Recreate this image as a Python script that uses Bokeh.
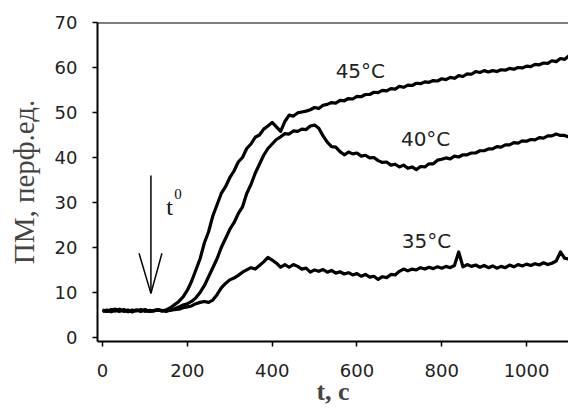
from bokeh.plotting import figure
from bokeh.models import Range1d, FixedTicker, Span
from bokeh.core.properties import value
from bokeh.embed import file_html
from bokeh.resources import INLINE

# time, s (step 10 s)
t = list(range(0, 1101, 10))

t45 = [6.0, 5.8, 6.2, 5.9, 6.3, 5.8, 6.1, 5.7, 6.1, 5.9,
       6.2, 5.8, 6.0, 6.2, 5.9, 6.1, 6.6, 7.3, 8.0, 9.0,
       10.5, 12.5, 15.0, 17.5, 21.0, 23.5, 27.0, 29.5, 32.0, 33.5,
       35.5, 37.0, 39.0, 40.0, 42.0, 43.0, 44.5, 45.0, 46.3, 47.0,
       47.8, 46.8, 45.8, 48.0, 49.4, 49.2, 49.9, 50.1, 50.3, 50.6,
       51.1, 50.9, 51.6, 51.8, 52.2, 52.1, 52.7, 52.6, 53.1, 53.0,
       53.6, 53.5, 54.0, 54.0, 54.5, 54.4, 54.9, 54.8, 55.3, 55.2,
       55.8, 55.6, 56.1, 56.0, 56.5, 56.4, 56.8, 56.7, 57.1, 57.0,
       57.5, 57.3, 57.8, 57.6, 58.2, 58.0, 58.6, 58.5, 59.1, 58.9,
       59.3, 59.0, 59.3, 59.1, 59.5, 59.4, 59.8, 59.6, 60.0, 59.9,
       60.3, 60.2, 60.7, 60.6, 61.0, 60.9, 61.5, 61.3, 62.0, 61.8,
       62.6]

t40 = [5.8, 6.1, 5.7, 6.0, 5.8, 6.2, 5.9, 5.7, 6.1, 5.8,
       6.1, 5.8, 5.9, 6.1, 6.0, 5.8, 6.1, 6.4, 6.8, 7.2,
       7.5, 8.0, 8.8, 10.0, 11.5, 13.5, 15.5, 17.5, 20.0, 22.0,
       24.0, 25.5, 27.5, 29.0, 32.0, 34.0, 36.5, 38.5, 40.5, 42.0,
       43.0, 44.0, 44.6, 45.3, 45.2, 45.9, 45.8, 46.3, 46.2, 47.0,
       47.2, 46.5, 44.8, 43.4, 42.4, 42.3, 41.3, 40.6, 41.2, 40.8,
       41.0, 40.3, 40.5, 39.9, 40.0, 39.3, 38.9, 39.0, 38.3, 38.5,
       37.9, 38.3, 37.6, 37.9, 37.3, 38.0, 37.9, 38.6, 38.6, 39.4,
       39.6, 39.9, 39.7, 40.3, 40.1, 40.6, 40.6, 41.0, 41.0, 41.5,
       41.5, 41.9, 41.9, 42.4, 42.3, 42.8, 42.8, 43.3, 43.2, 43.7,
       43.6, 44.0, 43.9, 44.4, 44.3, 44.8, 44.8, 45.2, 44.9, 44.9,
       44.5]

t35 = [6.1, 5.8, 6.0, 6.3, 5.9, 6.0, 5.7, 6.1, 5.9, 6.2,
       5.8, 6.0, 5.9, 6.1, 5.9, 6.0, 6.0, 6.2, 6.3, 6.6,
       6.8, 7.0, 7.5, 7.8, 8.0, 7.8, 8.3, 9.5, 11.0, 12.0,
       12.8, 13.2, 13.8, 14.5, 15.0, 15.5, 15.2, 16.0, 16.8, 17.8,
       17.2, 16.5, 15.6, 16.2, 15.6, 16.2, 15.8, 15.2, 15.4, 14.5,
       15.0, 14.7, 15.1, 14.5, 14.9, 14.3, 14.6, 14.1, 14.4, 13.9,
       14.2, 13.6, 14.0, 13.4, 13.6, 12.9, 13.5, 13.3, 14.0, 13.9,
       14.7, 15.2, 14.8, 15.2, 15.0, 15.5, 15.2, 15.6, 15.3, 15.7,
       15.4, 15.8, 15.5, 16.0, 19.0, 15.7, 16.2, 15.8, 16.1, 15.6,
       16.0, 15.5, 15.9, 15.4, 15.8, 15.5, 16.1, 15.7, 16.2, 15.9,
       16.3, 16.0, 16.4, 16.1, 16.6, 16.2, 16.5, 17.0, 19.0, 17.6,
       17.4]

x_ticks = [0, 200, 400, 600, 800, 1000]
y_ticks = [0, 10, 20, 30, 40, 50, 60, 70]

series_labels = ["45°C", "40°C", "35°C"]
label_t = [608, 762, 764]
label_v = [59.3, 44.2, 21.5]

# arrow marking t0
arrow_x0 = [114, 86, 140]
arrow_y0 = [36, 18.7, 18.7]
arrow_x1 = [114, 114, 114]
arrow_y1 = [9.8, 9.8, 9.8]

p = figure(width=568, height=412, output_backend="svg", toolbar_location=None,
           x_range=Range1d(-12, 1099), y_range=Range1d(-0.9, 70),
           min_border_left=97, min_border_right=0, min_border_top=22, min_border_bottom=71)
p.outline_line_color = None
p.grid.grid_line_color = None
p.background_fill_color = "white"

for ys in (t45, t40, t35):
    p.line(t, ys, line_color="black", line_width=3.2, line_join="round")

p.segment(arrow_x0, arrow_y0, arrow_x1, arrow_y1, line_color="black", line_width=1.5)

p.text(label_t, label_v, text=series_labels, text_font=value("DejaVu Sans"),
       text_font_size="20px", text_align="center", text_baseline="alphabetic",
       text_color="#222222")

p.text([150], [29.1], text=["t"], text_font=value("Liberation Serif"),
       text_font_size="24px", text_baseline="alphabetic", text_color="#111111")
p.text([169], [31.8], text=["0"], text_font=value("Liberation Serif"),
       text_font_size="15px", text_baseline="alphabetic", text_color="#111111")

p.add_layout(Span(location=70, dimension="width", line_color="black", line_width=2))

for ax in (p.xaxis[0], p.yaxis[0]):
    ax.axis_line_width = 2
    ax.axis_line_color = "black"
    ax.major_tick_line_width = 1.5
    ax.major_tick_line_color = "black"
    ax.major_tick_in = 0
    ax.major_tick_out = 5
    ax.minor_tick_line_color = None
    ax.major_label_text_font = "DejaVu Sans"
    ax.major_label_text_font_size = "18px"
    ax.major_label_text_color = "#222222"

p.xaxis.ticker = FixedTicker(ticks=x_ticks)
p.yaxis.ticker = FixedTicker(ticks=y_ticks)
p.xaxis.major_label_standoff = 17
p.yaxis.major_label_standoff = 15

p.xaxis.axis_label = "t, c"
p.xaxis.axis_label_text_font = "Liberation Serif"
p.xaxis.axis_label_text_font_style = "bold"
p.xaxis.axis_label_text_font_size = "26px"
p.xaxis.axis_label_standoff = -3

p.yaxis.axis_label = "ПМ, перф.ед."
p.yaxis.axis_label_text_font = "Liberation Serif"
p.yaxis.axis_label_text_font_style = "normal"
p.yaxis.axis_label_text_font_size = "29px"
p.yaxis.axis_label_standoff = 12

open("out.html", "w").write(file_html(p, INLINE))
